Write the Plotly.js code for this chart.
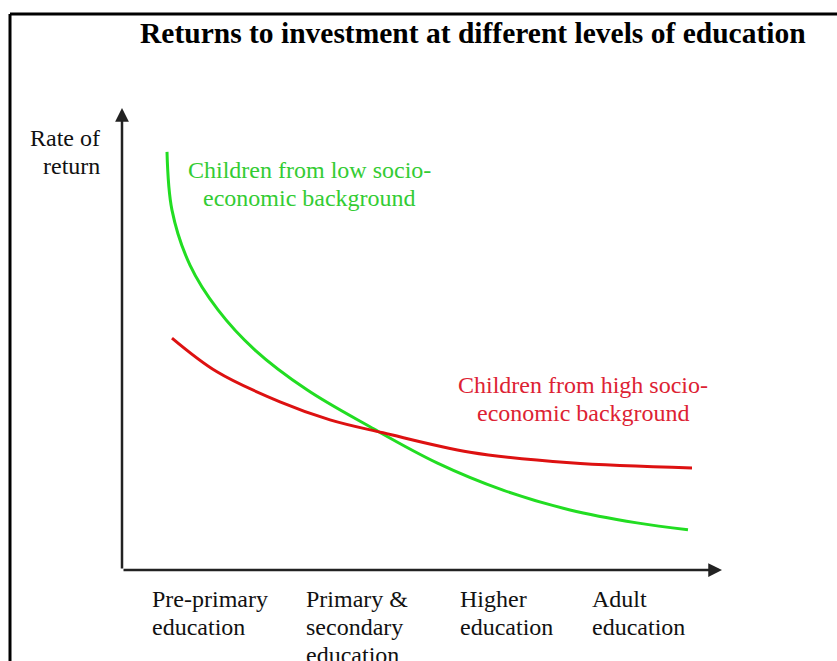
<!DOCTYPE html>
<html>
<head>
<meta charset="utf-8">
<script src="https://cdn.plot.ly/plotly-3.0.1.min.js"></script>
<style>html,body{margin:0;padding:0;background:#fff;}#chart{width:837px;height:661px;}</style>
</head>
<body>
<div id="chart"></div>
<script>
// ---- data (arbitrary units: x = position along education stages 0..100, y = rate of return 0..100)
var lowX  = [7.5, 8.33, 11.33, 16.0, 22.17, 30.83, 41.33, 52.5, 63.5, 74.67, 85.83, 94.33];
var lowY  = [90.5, 77.9, 66.0, 56.3, 47.6, 39.0, 31.0, 23.2, 17.3, 13.0, 10.2, 8.7];
var highX = [8.33, 15.83, 26.33, 34.67, 43.5, 58.0, 74.67, 95.0];
var highY = [50.2, 42.9, 36.4, 32.5, 29.7, 25.5, 23.2, 22.1];

var categories = [
  ["Pre-primary", "education"],
  ["Primary &", "secondary", "education"],
  ["Higher", "education"],
  ["Adult", "education"]
];
var categoryX = [4.7, 30.3, 56.0, 78.0];   // left edge of each stage label (x units)

var titleText = "Returns to investment at different levels of education";
var yLabel = ["Rate of", "return"];
var lowLabel = ["Children from low socio-", "economic background"];
var highLabel = ["Children from high socio-", "economic background"];

// ---- layout geometry
var W = 837, H = 661;
var M = {l: 122, r: 115, t: 108, b: 91};
var PW = W - M.l - M.r, PH = H - M.t - M.b;
function PX(px) { return (px - M.l) / PW; }          // page px -> paper x
function PY(py) { return (H - M.b - py) / PH; }      // page py -> paper y
var LINE = 28;
var serif = "Liberation Serif, Times New Roman, serif";
var green = "#22dd22", red = "#dd1111";
var FS = 24;

var annotations = [];
function addLines(lines, px, py, anchor, color, size) {
  lines.forEach(function (t, i) {
    annotations.push({
      text: t, xref: "paper", yref: "paper",
      x: PX(px), y: PY(py + i * LINE),
      xanchor: anchor, yanchor: "middle", showarrow: false,
      font: {family: serif, size: size, color: color}
    });
  });
}

// title
annotations.push({
  text: "<b>" + titleText + "</b>", xref: "paper", yref: "paper",
  x: PX(473), y: PY(33), xanchor: "center", yanchor: "middle", showarrow: false,
  font: {family: serif, size: 29.5, color: "#000"}
});
addLines(yLabel, 102, 138, "right", "#111", FS);
addLines(lowLabel, 309, 170, "center", "#33cc33", FS);
addLines(highLabel, 583, 385, "center", "#dd2233", FS);
categories.forEach(function (lines, k) {
  lines.forEach(function (t, i) {
    annotations.push({
      text: t, xref: "x", yref: "paper",
      x: categoryX[k], y: PY(599 + i * LINE),
      xanchor: "left", yanchor: "middle", showarrow: false,
      font: {family: serif, size: FS, color: "#111"}
    });
  });
});
// axes with arrows
annotations.push({x: 0, y: 100, ax: 0, ay: 0, xref: "x", yref: "y", axref: "x", ayref: "y",
  text: "", showarrow: true, arrowhead: 2, arrowsize: 1.1, arrowwidth: 2.5, arrowcolor: "#222"});
annotations.push({x: 100, y: 0, ax: 0, ay: 0, xref: "x", yref: "y", axref: "x", ayref: "y",
  text: "", showarrow: true, arrowhead: 2, arrowsize: 1.1, arrowwidth: 2.5, arrowcolor: "#222"});

var traces = [
  {x: lowX, y: lowY, mode: "lines", line: {color: green, width: 3, shape: "spline", smoothing: 1}, hoverinfo: "skip"},
  {x: highX, y: highY, mode: "lines", line: {color: red, width: 3, shape: "spline", smoothing: 1}, hoverinfo: "skip"}
];

var layout = {
  width: W, height: H, margin: M,
  paper_bgcolor: "#fff", plot_bgcolor: "#fff",
  showlegend: false,
  xaxis: {range: [0, 100], visible: false, fixedrange: true},
  yaxis: {range: [0, 100], visible: false, fixedrange: true},
  annotations: annotations,
  shapes: [
    {type: "line", xref: "paper", yref: "paper", x0: PX(10), x1: PX(10), y0: PY(14), y1: PY(700), line: {color: "#000", width: 3}},
    {type: "line", xref: "paper", yref: "paper", x0: PX(10), x1: PX(860), y0: PY(14), y1: PY(14), line: {color: "#000", width: 3}}
  ]
};

Plotly.newPlot("chart", traces, layout, {displayModeBar: false, staticPlot: true});
</script>
</body>
</html>
